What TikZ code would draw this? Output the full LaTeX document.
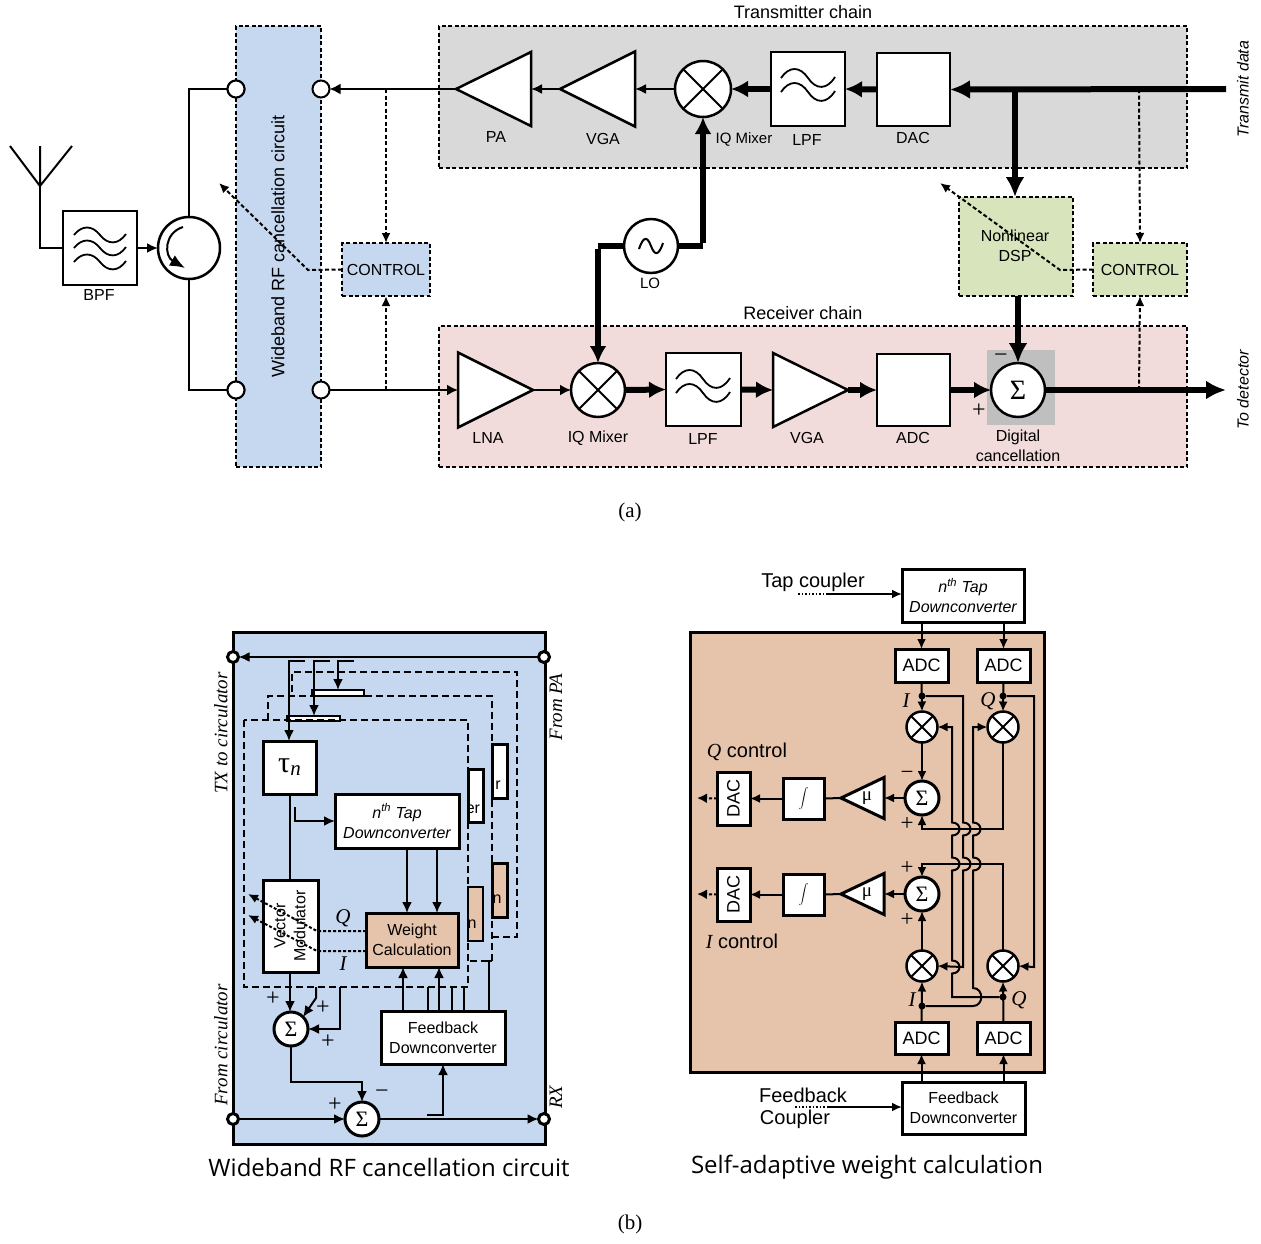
\documentclass[tikz,border=0pt]{standalone}
\usepackage{fontspec}
\setmainfont{Liberation Sans}
\newfontfamily\lsrf{Liberation Serif}
\newfontfamily\capfont{Open Sans}
\usetikzlibrary{arrows.meta,shapes.geometric}
\newcommand\fs[2]{\fontsize{#1}{#2}\selectfont}
\definecolor{panelblue}{HTML}{C6D8EF}
\definecolor{txgray}{HTML}{D9D9D9}
\definecolor{rxpink}{HTML}{F2DCDB}
\definecolor{dspgreen}{HTML}{D7E4BC}
\definecolor{wcbrown}{HTML}{E6C3AB}
\definecolor{sumgray}{HTML}{BFBFBF}
\tikzset{
  base/.style={inner sep=0pt,outer sep=0pt,align=center,font=\fs{16}{20}},
  box/.style={base,draw,fill=white,line width=2.5pt},
  bbox/.style={base,draw,fill=white,line width=3pt},
  dbox/.style={base,draw,dash pattern=on 4pt off 2.5pt,line width=2pt},
  wcbox/.style={base,draw,fill=wcbrown,line width=3pt},
  lab/.style={base,font=\fs{16}{20}},
  slab/.style={base,font=\lsrf\itshape\fs{19}{22}},
  ilab/.style={base,font=\lsrf\itshape\fs{21}{22}},
  wire/.style={line width=2pt},
  tw/.style={line width=2pt,-{Latex[length=11pt,width=11pt]}},
  sw/.style={line width=2pt,-{Latex[length=11pt,width=10pt]}},
  hw/.style={line width=6pt,-{Latex[length=20pt,width=19pt]}},
  hws/.style={line width=6pt,-{Latex[length=17pt,width=17pt]}},
  hwl/.style={line width=6pt},
  dw/.style={line width=2pt,dash pattern=on 4pt off 2.5pt,-{Latex[length=10pt,width=9pt]}},
  dq/.style={line width=2pt,dash pattern=on 3pt off 2pt,-{Latex[length=10pt,width=9pt]}},
  dash3/.style={line width=2pt,dash pattern=on 7pt off 4pt},
  amp/.style={base,draw,fill=white,line width=2.5pt,isosceles triangle,isosceles triangle stretches,shape border rotate=#1},
  port/.style={base,circle,draw,fill=white,line width=2pt},
  pm/.style={base,font=\lsrf\fs{24}{24}},
  dotn/.style={base,circle,fill=black,minimum size=7pt},
  sumb/.style={base,circle,draw,fill=white,line width=3pt,minimum size=34pt,font=\lsrf\fs{22}{22}},
  adc/.style={bbox,font=\fs{18}{20}},
  ar/.style={line width=2pt,-{Latex[length=10pt,width=9pt]}},
  da/.style={line width=2pt,dash pattern=on 3pt off 2pt,-{Latex[length=10pt,width=10pt]}},
  big/.style={base,font=\fs{20}{22}},
  dots/.style={line width=1.5pt,dash pattern=on 1.5pt off 2pt},
}
\newcommand\bx[7]{\node[#1,minimum width={(#5-#3)*1pt},minimum height={(#6-#4)*1pt}] (#2) at ({(#3+#5)/2},{(#4+#6)/2}) {#7};}
\newcommand\mixer[4]{\node[base,circle,draw,fill=white,line width=2.5pt,minimum size={2*#4*1pt}] (#1) at (#2,#3) {};
  \draw[line width=2pt] (#1.45) -- (#1.225) (#1.135) -- (#1.-45);}
\newcommand\wave[4]{\draw[line width=1.8pt] (#1-#3,#2) .. controls (#1-0.7*#3,#2-#4) and (#1-0.3*#3,#2-#4) .. (#1,#2) .. controls (#1+0.3*#3,#2+#4) and (#1+0.7*#3,#2+#4) .. (#1+#3,#2-1);}
\newcommand\hop[2]{-- (#1,#2-6.5) .. controls (#1+10,#2-6.5) and (#1+10,#2+6.5) .. (#1,#2+6.5)}
\newcommand\hopu[2]{-- (#1,#2+6.5) .. controls (#1+10,#2+6.5) and (#1+10,#2-6.5) .. (#1,#2-6.5)}
\begin{document}
\begin{tikzpicture}[x=1pt,y=-1pt]
\useasboundingbox (0,0) rectangle (1261,1243);
% ---------- part (a) backgrounds
\bx{dbox,fill=panelblue}{wbbox}{236}{26}{321}{467}{}
\bx{dbox,fill=txgray}{txbox}{439}{26}{1187}{168}{}
\bx{dbox,fill=rxpink}{rxbox}{439}{326}{1187}{467}{}
\node[lab,font=\fs{18}{20}] (txtitle) at (803,12) {Transmitter chain};
\node[lab,font=\fs{18}{20}] (rxtitle) at (803,313) {Receiver chain};
\node[lab,font=\fs{18}{20},rotate=90] (wbtext) at (278,246) {Wideband RF cancellation circuit};
% ports
\node[port,minimum size=17pt] (p1) at (236,89) {};
\node[port,minimum size=17pt] (p2) at (321,89) {};
\node[port,minimum size=17pt] (p3) at (236,390) {};
\node[port,minimum size=17pt] (p4) at (321,390) {};
% antenna
\coordinate (antL) at (10,146);
\coordinate (antR) at (72,146);
\coordinate (antT) at (40,146);
\coordinate (antV) at (40,186);
\draw[wire] (antL) -- (antV) -- (antR) (antT) -- (antV);
\bx{box}{bpf}{63}{211}{137}{285}{}
\wave{100}{235}{26}{10}\wave{100}{248}{26}{10}\wave{100}{262}{26}{10}
\node[lab] (bpflab) at (99,295) {BPF};
\draw[wire] (antV) |- (bpf.west);
\node[base,circle,draw,fill=white,line width=2.5pt,minimum size=62pt] (circ) at (189,248) {};
\draw[line width=2pt,-{Latex[length=15pt,width=12pt]}] (183,227) .. controls (164,233) and (164,256) .. (185,268);
\draw[sw] (bpf.east) -- (circ.west);
\draw[wire] (circ.north) |- (p1.east);
\draw[wire] (circ.south) |- (p3.east);
\node[port,minimum size=17pt] (p1b) at (236,89) {};
\node[port,minimum size=17pt] (p3b) at (236,390) {};
% tx chain
\node[amp=180,anchor=apex,minimum width=74pt,minimum height=75pt] (pa) at (456,89) {};
\node[amp=180,anchor=apex,minimum width=75pt,minimum height=75pt] (vgat) at (560,89) {};
\mixer{mixt}{703}{89}{28}
\bx{box}{lpft}{771}{52}{845}{126}{}
\wave{808}{78}{27}{12}\wave{808}{92}{27}{12}
\bx{box}{dact}{877}{53}{950}{126}{}
\coordinate (txin) at (1226,89);
\coordinate (txb) at (1015,89);
\coordinate (txc) at (1139,89);
\draw[hw] (txin) -- (dact.east);
\draw[hws] (dact.west) -- (lpft.east);
\draw[hws] (lpft.west) -- (mixt.east);
\draw[sw] (mixt.west) -- (vgat.lower side);
\draw[sw] (vgat.apex) -- (pa.lower side);
\coordinate (txd) at (386,89);
\draw[tw] (pa.apex) -- (p2.east);
% labels tx
\node[lab] (lpa) at (496,137) {PA};
\node[lab] (lvgat) at (603,139) {VGA};
\node[lab,font=\fs{15}{18}] (liqt) at (744,139) {IQ Mixer};
\node[lab] (llpft) at (807,140) {LPF};
\node[lab] (ldact) at (913,138) {DAC};
\node[lab,rotate=90,font=\itshape\fs{16}{18}] (ltx) at (1243,89) {Transmit data};
\node[lab,rotate=90,font=\itshape\fs{16}{18}] (lrx) at (1243,390) {To detector};
% LO
\node[base,circle,draw,fill=white,line width=2.5pt,minimum size=54pt] (lo) at (651,246) {};
\draw[line width=2pt] (639,249) .. controls (644,234) and (648,238) .. (651,246) .. controls (654,254) and (658,258) .. (663,243);
\node[lab,font=\fs{15}{18}] (llo) at (650,283) {LO};
% rx chain
\bx{base,fill=sumgray}{sumbg}{987}{350}{1055}{425}{}
\node[amp=0,anchor=lower side,minimum width=75pt,minimum height=75pt] (lna) at (458,390) {};
\mixer{mixr}{598}{390}{27}
\bx{box}{lpfr}{666}{353}{741}{426}{}
\wave{703}{379}{27}{12}\wave{703}{393}{27}{12}
\node[amp=0,anchor=lower side,minimum width=74pt,minimum height=75pt] (vgar) at (773,390) {};
\bx{box}{adcr}{877}{354}{950}{426}{}
\node[base,circle,draw,fill=white,line width=2.5pt,minimum size=54pt,font=\lsrf\fs{28}{28}] (sumd) at (1018,390) {Σ};
\draw[tw] (p4.east) -- (lna.lower side);
\draw[tw] (lna.apex) -- (mixr.west);
\draw[hws] (mixr.east) -- (lpfr.west);
\draw[hws] (lpfr.east) -- (vgar.lower side);
\draw[hws] (vgar.apex) -- (adcr.west);
\draw[hws] (adcr.east) -- (sumd.west);
\coordinate (rxout) at (1226,390);
\coordinate (rxc) at (1139,390);
\draw[hw] (sumd.east) -- (rxout);
\node[pm] (mn) at (1001,358) {−};
\node[pm] (pl) at (979,411) {+};
\node[lab] (llna) at (488,438) {LNA};
\node[lab] (liqr) at (598,438) {IQ Mixer};
\node[lab] (llpfr) at (703,439) {LPF};
\node[lab] (lvgar) at (807,438) {VGA};
\node[lab] (ladcr) at (913,438) {ADC};
\node[lab] (ldig) at (1018,446) {Digital\\cancellation};
% LO wires
\coordinate (loR) at (703,246);
\coordinate (loL) at (598,246);
\draw[hwl] (lo.east) -- (loR);
\draw[hws] ([yshift=3pt]loR) -- (mixt.south);
\draw[hwl] (lo.west) -- (loL);
\draw[hws] ([yshift=-3pt]loL) -- (mixr.north);
% DSP and control right
\bx{dbox,fill=dspgreen}{dsp}{959}{197}{1073}{296}{}
\node[lab] (dsplab) at (1015,246) {Nonlinear\\DSP};
\bx{dbox,fill=dspgreen}{ctlr}{1093}{243}{1187}{296}{CONTROL}
\draw[hw] (txb) -- (dsp.north -| txb);
\coordinate (dspo) at (1018,296);
\draw[hw] (dspo) -- (sumd.north);
\draw[dw] (txc) -- (ctlr.north);
\draw[dw] (rxc) -- (ctlr.south);
\coordinate (cr1) at (1060,270);
\coordinate (cr2) at (940,183);
\draw[dw] (ctlr.west) -- (cr1) -- (cr2);
% control left
\bx{dbox,fill=panelblue}{ctll}{342}{243}{430}{296}{CONTROL}
\coordinate (rxd) at (386,390);
\draw[dw] (txd) -- (ctll.north);
\draw[dw] (rxd) -- (ctll.south);
\coordinate (cl1) at (308,270);
\coordinate (cl2) at (219,183);
\draw[dw] (ctll.west) -- (cl1) -- (cl2);
% ---------- part (b) left
\bx{bbox,fill=panelblue}{lpanel}{233}{632}{545}{1144}{}
\node[port,line width=3pt,minimum size=11pt] (lp1) at (233,657) {};
\node[port,line width=3pt,minimum size=11pt] (lp2) at (544,657) {};
\node[port,line width=3pt,minimum size=11pt] (lp3) at (233,1119) {};
\node[port,line width=3pt,minimum size=11pt] (lp4) at (544,1119) {};
\draw[sw] (lp2.west) -- (lp1.east);
% rear slivers
\bx{box}{t3}{312}{690}{364}{696}{}
\bx{box}{t2}{287}{716}{340}{721}{}
\bx{box,line width=3pt}{d3}{492}{744}{507}{798}{}
\bx{box,line width=3pt}{d2}{468}{769}{483}{822}{}
\bx{wcbox}{w3}{492}{863}{507}{917}{}
\bx{wcbox,line width=2.5pt}{w2}{468}{887}{483}{941}{}
\node[lab,anchor=base] (r3) at (498,789) {r};
\begin{scope}
\clip (468,760) rectangle (483,830);
\node[lab,anchor=base east] (r2) at (480,813) {er};
\end{scope}
\node[lab] (n3) at (497,899) {n};
\node[lab] (n2) at (472,924) {n};
\draw[dash3] (292,692) -- (292,672) -- (517,672) -- (517,937) -- (492,937);
\draw[dash3] (268,720) -- (268,696) -- (492,696) -- (492,961) -- (468,961);
\draw[dash3] (244,720) rectangle (468,987);
% top tap lines
\coordinate (tp1) at (305,661);\coordinate (tc1) at (289,661);
\coordinate (tp2) at (330,661);\coordinate (tc2) at (314,661);
\coordinate (tp3) at (354,661);\coordinate (tc3) at (338,661);
% front stage
\bx{bbox}{tau}{263}{741}{316}{794}{{\lsrf\fs{30}{30}τ}\raisebox{-3pt}{\lsrf\itshape\fs{21}{21}n}}
\bx{bbox}{tapl}{335}{794}{459}{848}{\itshape n\textsuperscript{th} Tap\\\itshape Downconverter}
\bx{bbox}{vm}{263}{880}{318}{972}{}
\bx{wcbox}{wc}{366}{913}{458}{967}{Weight\\Calculation}
\bx{bbox}{fbl}{381}{1011}{505}{1064}{Feedback\\Downconverter}
\node[sumb] (s1) at (291,1029) {Σ};
\node[sumb] (s2) at (362,1119) {Σ};
\draw[sw] (tp1) -- (tc1) -- (tau.north -| tc1);
\draw[sw] (tp2) -- (tc2) -- (t2.north -| tc2);
\draw[sw] (tp3) -- (tc3) -- (t3.north -| tc3);
\coordinate (tapb) at (295,807);
\coordinate (tapc) at (335,821);
\draw[sw] (tapb) |- (tapc);
\coordinate (tauvm) at (290,794);\coordinate (vmtop) at (290,880);
\draw[wire] (tauvm) -- (vmtop);
\coordinate (a1) at (407,848);\coordinate (a2) at (437,848);
\coordinate (a1e) at (407,913);\coordinate (a2e) at (437,913);
\coordinate (b1) at (403,1011);\coordinate (b2) at (439,1011);
\coordinate (b1e) at (403,967);\coordinate (b2e) at (439,967);
\draw[sw] (a1) -- (a1e);
\draw[sw] (a2) -- (a2e);
\draw[sw] (b1) -- (b1e);
\draw[sw] (b2) -- (b2e);
\draw[wire] (428,1011) -- (428,987) (452,1011) -- (452,987) (464,1011) -- (464,987) -- (468,987) (489,1011) -- (489,961) -- (492,961);
\node[lab,rotate=90] (vmt) at (290,926) {Vector\\Modulator};
\coordinate (q1) at (317,931);\coordinate (q2) at (248,894);
\coordinate (i1) at (317,951);\coordinate (i2) at (248,915);
\draw[dq] (wc.west |- q1) -- (q1) -- (q2);
\draw[dq] (wc.west |- i1) -- (i1) -- (i2);
\node[ilab] (lq) at (343,918) {Q};
\node[ilab] (li) at (343,964) {I};
\coordinate (vmb) at (290,972);\coordinate (s1t) at (290,1012);
\draw[sw] (vmb) -- (s1t);
\coordinate (m1) at (316,987);\coordinate (m2) at (316,998);\coordinate (m3) at (340,987);\coordinate (m4) at (340,1029);
\draw[sw] (m1) -- (m2) -- (s1.45);
\draw[sw] (m3) -- (m4) -- (s1.east);
\coordinate (s1c) at (291,1082);\coordinate (s2c) at (362,1082);
\draw[sw] (s1.south) -- (s1c) -- (s2c) -- (s2.north);
\draw[sw] (lp3.east) -- (s2.west);
\draw[sw] (s2.east) -- (lp4.west);
\coordinate (f1) at (427,1115);\coordinate (f2) at (443,1115);
\draw[sw] (f1) -- (f2) -- (f2 |- fbl.south);
\node[pm] (p1a) at (273,999) {+};
\node[pm] (p1bb) at (323,1008) {+};
\node[pm] (p1c) at (328,1042) {+};
\node[pm] (p2a) at (335,1105) {+};
\node[pm] (p2b) at (382,1094) {−};
\node[slab,rotate=90] (ltxc) at (221,733) {TX to circulator};
\node[slab,rotate=90] (lfpa) at (556,707) {From PA};
\node[slab,rotate=90] (lfc) at (221,1045) {From circulator};
\node[slab,rotate=90] (lrxl) at (556,1097) {RX};
\node[base,font=\capfont\fs{24}{26}] (capl) at (389,1167) {Wideband RF cancellation circuit};
\node[base,font=\capfont\fs{24}{26}] (capr) at (867,1167) {Self-adaptive weight calculation};
\node[base,font=\lsrf\fs{21}{24}] (capa) at (630,512) {(a)};
\node[base,font=\lsrf\fs{21}{24}] (capb) at (630,1224) {(b)};
% ---------- part (b) right
\bx{bbox,fill=wcbrown}{rpanel}{690}{632}{1044}{1072}{}
\bx{bbox}{tapr}{902}{569}{1024}{622}{\itshape n\textsuperscript{th} Tap\\\itshape Downconverter}
\bx{adc}{at1}{895}{649}{948}{682}{ADC}
\bx{adc}{at2}{977}{649}{1030}{682}{ADC}
\bx{adc}{ab1}{895}{1022}{948}{1054}{ADC}
\bx{adc}{ab2}{977}{1022}{1030}{1054}{ADC}
\bx{bbox}{fbr}{902}{1082}{1025}{1134}{Feedback\\Downconverter}
\mixer{mtl}{922}{727}{15.5}
\mixer{mtr}{1003}{727}{15.5}
\mixer{mbl}{922}{966}{15.5}
\mixer{mbr}{1003}{966}{15.5}
\node[sumb] (st) at (922,798) {Σ};
\node[sumb] (sb) at (922,894) {Σ};
\node[amp=180,anchor=apex,line width=3pt,minimum width=41pt,minimum height=43pt] (mut) at (841,798) {};
\node[amp=180,anchor=apex,line width=3pt,minimum width=41pt,minimum height=43pt] (mub) at (841,894) {};
\node[base,font=\lsrf\fs{19}{20}] (mutt) at (867,798) {μ};
\node[base,font=\lsrf\fs{19}{20}] (mubt) at (867,894) {μ};
\bx{bbox}{it}{783}{778}{824}{819}{\fontsize{14}{16}\selectfont$\displaystyle\int$}
\bx{bbox}{ib}{783}{874}{824}{915}{\fontsize{14}{16}\selectfont$\displaystyle\int$}
\bx{bbox}{dt}{717}{772}{750}{825}{\rotatebox{90}{\fs{18}{20}DAC}}
\bx{bbox}{db}{717}{868}{750}{921}{\rotatebox{90}{\fs{18}{20}DAC}}
\coordinate (ot) at (697,798);\coordinate (ob) at (697,894);
\draw[ar] (st.west) -- (mut.lower side);
\draw[ar] (sb.west) -- (mub.lower side);
\draw[wire] (mut.apex) -- (it.east);
\draw[wire] (mub.apex) -- (ib.east);
\draw[ar] (it.west) -- (dt.east);
\draw[ar] (ib.west) -- (db.east);
\draw[da] (dt.west) -- (ot);
\draw[da] (db.west) -- (ob);
% top connectors
\draw[ar] (tapr.south -| at1) -- (at1.north);
\draw[ar] (tapr.south -| at2) -- (at2.north);
\node[dotn] (dit) at (922,696) {};
\node[dotn] (dqt) at (1003,696) {};
\node[dotn] (dib) at (922,1006) {};
\node[dotn] (dqb) at (1003,997) {};
\draw[ar] (at1.south) -- (mtl.north);
\draw[ar] (at2.south) -- (mtr.north);
\draw[ar] (mtl.south) -- (st.north);
\draw[ar] (mtr.south) -- (1003,829) -- (922,829) -- (st.south);
\draw[ar] (mbr.north) -- (1003,864) -- (922,864) -- (sb.north);
\draw[ar] (mbl.north) -- (sb.south);
\draw[ar] (ab1.north) -- (mbl.south);
\draw[ar] (ab2.north) -- (mbr.south);
\draw[ar] (dit) -- (963,696) \hop{963}{829} \hop{963}{864} -- (963,967) -- (mbl.east);
\draw[ar] (dqb) -- (952,997) \hopu{952}{967} \hopu{952}{864} \hopu{952}{829} -- (952,727) -- (mtl.east);
\draw[ar] (dib) -- (973,1006) .. controls (984,1006) and (984,988) .. (973,988) \hopu{973}{864} \hopu{973}{829} -- (973,727) -- (mtr.west);
\draw[ar] (dqt) -- (1034,696) -- (1034,967) -- (mbr.east);
\node[pm,font=\lsrf\fs{23}{24}] (rm1) at (907,775) {−};
\node[pm,font=\lsrf\fs{23}{24}] (rp1) at (907,824) {+};
\node[pm,font=\lsrf\fs{23}{24}] (rp2) at (907,868) {+};
\node[pm,font=\lsrf\fs{23}{24}] (rp3) at (907,920) {+};
\node[ilab] (lit) at (906,701) {I};
\node[ilab] (lqt) at (988,701) {Q};
\node[ilab] (lib) at (912,1000) {I};
\node[ilab] (lqb) at (1019,1000) {Q};
\node[big] (qc) at (747,752) {{\lsrf\itshape Q} control};
\node[big] (ic) at (742,941) {{\lsrf\itshape I} control};
\node[big] (tc) at (813,582) {Tap coupler};
\coordinate (tcd1) at (798,594);\coordinate (tcd2) at (828,594);
\draw[dots] (tcd1) -- (tcd2);
\draw[ar] (tcd2) -- (tapr.west |- tcd2);
\node[big] (fc1) at (803,1095) {Feedback};
\node[big] (fc2) at (795,1119) {Coupler};
\coordinate (fcd1) at (795,1107);\coordinate (fcd2) at (828,1107);
\draw[dots] (fcd1) -- (fcd2);
\draw[ar] (fcd2) -- (fbr.west |- fcd2);
\draw[ar] (fbr.north -| ab1) -- (ab1.south);
\draw[ar] (fbr.north -| ab2) -- (ab2.south);
\end{tikzpicture}
\end{document}
